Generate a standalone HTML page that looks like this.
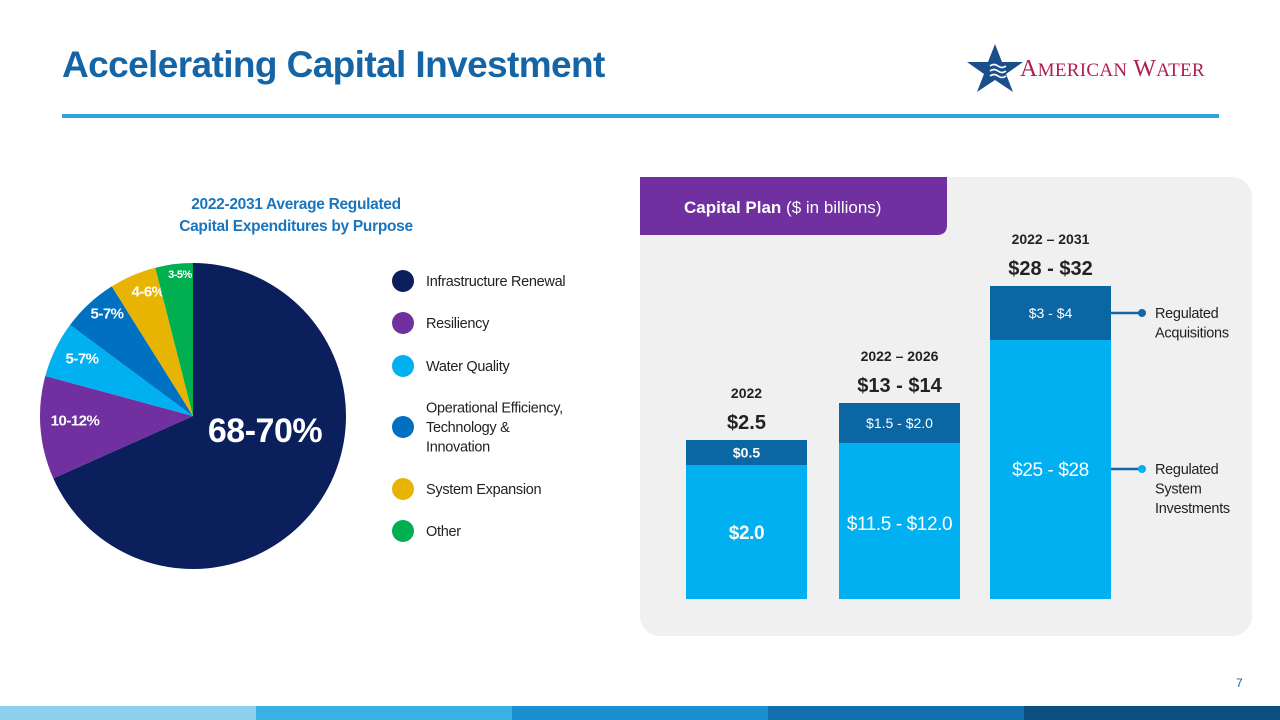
<!DOCTYPE html>
<html><head><meta charset="utf-8">
<style>
body{margin:0;width:1280px;height:720px;overflow:hidden;background:#fff;font-family:"Liberation Sans",sans-serif;position:relative}
.abs{position:absolute}
</style></head>
<body>
<div class="abs" style="left:62px;top:44px;font-size:37px;font-weight:bold;color:#1565a6;letter-spacing:-0.6px">Accelerating Capital Investment</div>
<div class="abs" style="left:62px;top:114px;width:1157px;height:4px;background:#2ea3dc"></div>
<div class="abs" style="left:965px;top:42px;width:260px;height:52px">
<svg width="60" height="52" style="position:absolute;left:0;top:0"><polygon points="30,2 37,20 58,20 41,32 48,50 30,38 12,50 19,32 2,20 23,20" fill="#1b4f8c"/><path d="M25,24 q4,-3 8,0 t8,0 M25,29 q4,-3 8,0 t8,0 M25,34 q4,-3 8,0 t8,0" stroke="#fff" stroke-width="1.6" fill="none"/></svg>
<div style="position:absolute;left:55px;top:14px;font-family:'Liberation Serif',serif;font-size:24px;color:#b01e4a;letter-spacing:0.3px">A<span style="font-size:19px">MERICAN</span> W<span style="font-size:19px">ATER</span></div>
</div>

<div class="abs" style="left:146px;top:194px;width:300px;text-align:center;font-size:15.5px;font-weight:bold;color:#1b75bc;line-height:22px;letter-spacing:-0.3px">2022-2031 Average Regulated<br>Capital Expenditures by Purpose</div>

<svg class="abs" id="pie" style="left:0;top:0" width="640" height="720"></svg>

<svg class="abs" id="bars" style="left:0;top:0" width="1280" height="720">
<rect x="640" y="177" width="612" height="459" rx="20" fill="#f0f0f0"/>
<path d="M640,177 H947 V225 Q947,235 937,235 H640 Z" fill="#7030a0"/>
<text x="684" y="213" font-size="17" fill="#fff" font-family="Liberation Sans"><tspan font-weight="bold">Capital Plan</tspan> ($ in billions)</text>
</svg>

<div class="abs" style="left:1236px;top:676px;font-size:12px;color:#1565a6">7</div>
<div class="abs" style="left:0;top:706px;width:1280px;height:14px;display:flex">
<div style="flex:1;background:#8fd0ef"></div><div style="flex:1;background:#3bb0e3"></div><div style="flex:1;background:#1a8fd0"></div><div style="flex:1;background:#136fb0"></div><div style="flex:1;background:#0d4f80"></div></div>

<script>
const NS="http://www.w3.org/2000/svg";
function mk(p,t,a){const e=document.createElementNS(NS,t);for(const k in a)e.setAttribute(k,a[k]);p.appendChild(e);return e;}
// Pie data
const pieCategories=["Infrastructure Renewal","Resiliency","Water Quality","Operational Efficiency, Technology & Innovation","System Expansion","Other"];
const pieValues=[69,11,6,6,5,4];
const pieLabels=["68-70%","10-12%","5-7%","5-7%","4-6%","3-5%"];
const pieColors=["#0a1f5c","#7030a0","#00b0f0","#0070c0","#e8b404","#00b050"];
const pie=document.getElementById('pie');
const cx=193,cy=416,r=153;
const total=pieValues.reduce((a,b)=>a+b,0);
let ang=0;
const labelPos=[[265,430,34],[75,420,15],[82,358,15],[107,313,15],[148,291,15],[180,274,11]];
pieValues.forEach((v,i)=>{
  const a0=ang/total*2*Math.PI, a1=(ang+v)/total*2*Math.PI; ang+=v;
  const x0=cx+r*Math.sin(a0),y0=cy-r*Math.cos(a0),x1=cx+r*Math.sin(a1),y1=cy-r*Math.cos(a1);
  const p=mk(pie,'path',{d:`M${cx},${cy} L${x0},${y0} A${r},${r} 0 ${a1-a0>Math.PI?1:0} 1 ${x1},${y1} Z`,fill:pieColors[i]});
  
  
  const lp=labelPos[i];
  const t=mk(pie,'text',{x:lp[0],y:lp[1]+lp[2]*0.35,'font-size':lp[2],'font-weight':'bold',fill:'#fff','text-anchor':'middle','font-family':'Liberation Sans','letter-spacing':'-0.5'});
  t.textContent=pieLabels[i];
  
  
  const ly=[281,323,366,427,489,531][i];
  const c=mk(pie,'circle',{cx:403,cy:ly,r:11,fill:pieColors[i]});
  
  
  const lines=i===3?["Operational Efficiency,","Technology &","Innovation"]:[pieCategories[i]];
  lines.forEach((s,j)=>{
    const lt=mk(pie,'text',{x:426,y:ly+5+(j-(lines.length-1)/2)*19.5,'font-size':14.5,fill:'#222','font-family':'Liberation Sans','letter-spacing':'-0.3'});
    lt.textContent=s;
    
    
  });
});
// Bar data
const barPeriods=["2022","2022 \u2013 2026","2022 \u2013 2031"];
const systemValues=[2.0,11.75,26.5];
const acqValues=[0.5,1.75,3.5];
const systemLabels=["$2.0","$11.5 - $12.0","$25 - $28"];
const acqLabels=["$0.5","$1.5 - $2.0","$3 - $4"];
const totalLabels=["$2.5","$13 - $14","$28 - $32"];
function pw(dom,rng){return v=>{for(let i=1;i<dom.length;i++){if(v<=dom[i]||i===dom.length-1){return rng[i-1]+(v-dom[i-1])/(dom[i]-dom[i-1])*(rng[i]-rng[i-1]);}}};}
const sysScale=pw([0,2,11.75,26.5],[0,134,156,259]);
const acqScale=pw([0,0.5,1.75,3.5],[0,25,40,54]);
const base=599,bw=121,bx=[686,839,990];
const bars=document.getElementById('bars');
barPeriods.forEach((p,i)=>{
  const hs=sysScale(systemValues[i]),ha=acqScale(acqValues[i]);
  const s=mk(bars,'rect',{x:bx[i],y:base-hs,width:bw,height:hs,fill:'#00b0f0'});
  
  
  const a=mk(bars,'rect',{x:bx[i],y:base-hs-ha,width:bw,height:ha,fill:'#0a67a3'});
  
  
  const mx=bx[i]+bw/2, top=base-hs-ha;
  const sl=mk(bars,'text',{x:mx,y:i===0?539:i===1?530:476,'font-size':19,fill:'#fff','text-anchor':'middle','font-weight':i===0?'bold':'normal','font-family':'Liberation Sans','letter-spacing':'-0.4'});
  sl.textContent=systemLabels[i];
  
  
  const al=mk(bars,'text',{x:mx,y:base-hs-ha/2+5,'font-size':14,fill:'#fff','text-anchor':'middle','font-weight':i===0?'bold':'normal','font-family':'Liberation Sans'});
  al.textContent=acqLabels[i];
  
  
  const tl=mk(bars,'text',{x:mx,y:top-11,'font-size':20,'font-weight':'bold',fill:'#222','text-anchor':'middle','font-family':'Liberation Sans'});
  tl.textContent=totalLabels[i];
  
  
  const pl=mk(bars,'text',{x:mx,y:top-42,'font-size':14,'font-weight':'bold',fill:'#222','text-anchor':'middle','font-family':'Liberation Sans'});
  pl.textContent=p;
  
  
});
[[313,["Regulated","Acquisitions"]],[469,["Regulated","System","Investments"]]].forEach((c,k)=>{
  const ln=mk(bars,'line',{x1:1111,y1:c[0],x2:1142,y2:c[0],stroke:'#1565a6','stroke-width':2.5});
  
  
  const d=mk(bars,'circle',{cx:1142,cy:c[0],r:4,fill:k?'#00b0f0':'#1565a6'});
  
  
  c[1].forEach((s,j)=>{
    const t=mk(bars,'text',{x:1155,y:c[0]+5+j*19.5,'font-size':14.5,fill:'#222','font-family':'Liberation Sans','letter-spacing':'-0.3'});
    t.textContent=s;
    
    
  });
});
</script>
</body></html>
